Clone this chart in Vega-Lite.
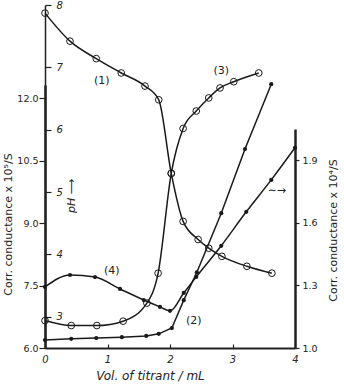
{
  "$schema": "https://vega.github.io/schema/vega-lite/v6.json",
  "width": 250,
  "height": 343,
  "autosize": {"type": "none"},
  "padding": {"left": 45, "top": 5, "right": 49, "bottom": 38},
  "background": "white",
  "config": {
    "view": {"stroke": null},
    "axis": {
      "grid": false,
      "labelFont": "DejaVu Sans",
      "titleFont": "DejaVu Sans",
      "labelColor": "#222",
      "titleColor": "#222",
      "tickColor": "#222",
      "domainColor": "#222",
      "titleFontWeight": "normal"
    }
  },
  "datasets": {
    "ph": [
      {"curve": "1", "x": 0, "pH": 7.87},
      {"curve": "1", "x": 0.4, "pH": 7.42},
      {"curve": "1", "x": 0.82, "pH": 7.14},
      {"curve": "1", "x": 1.22, "pH": 6.91},
      {"curve": "1", "x": 1.6, "pH": 6.7},
      {"curve": "1", "x": 1.82, "pH": 6.48},
      {"curve": "1", "x": 2.02, "pH": 5.3},
      {"curve": "1", "x": 2.21, "pH": 4.53},
      {"curve": "1", "x": 2.45, "pH": 4.24},
      {"curve": "1", "x": 2.62, "pH": 4.1},
      {"curve": "1", "x": 2.83, "pH": 3.97},
      {"curve": "1", "x": 3.23, "pH": 3.81},
      {"curve": "1", "x": 3.63, "pH": 3.7},
      {"curve": "3", "x": 0, "pH": 2.94},
      {"curve": "3", "x": 0.42, "pH": 2.86},
      {"curve": "3", "x": 0.83, "pH": 2.86},
      {"curve": "3", "x": 1.25, "pH": 2.93},
      {"curve": "3", "x": 1.63, "pH": 3.22},
      {"curve": "3", "x": 1.81, "pH": 3.7},
      {"curve": "3", "x": 2.02, "pH": 5.3},
      {"curve": "3", "x": 2.21, "pH": 6.02},
      {"curve": "3", "x": 2.42, "pH": 6.3},
      {"curve": "3", "x": 2.62, "pH": 6.51},
      {"curve": "3", "x": 2.8, "pH": 6.67},
      {"curve": "3", "x": 3.02, "pH": 6.77},
      {"curve": "3", "x": 3.42, "pH": 6.91}
    ],
    "left": [
      {"curve": "2", "x": 0, "G": 6.19},
      {"curve": "2", "x": 0.42, "G": 6.22},
      {"curve": "2", "x": 0.82, "G": 6.24},
      {"curve": "2", "x": 1.23, "G": 6.26},
      {"curve": "2", "x": 1.62, "G": 6.29},
      {"curve": "2", "x": 1.82, "G": 6.34},
      {"curve": "2", "x": 2.03, "G": 6.48},
      {"curve": "2", "x": 2.22, "G": 7.15},
      {"curve": "2", "x": 2.43, "G": 7.82},
      {"curve": "2", "x": 2.82, "G": 9.24},
      {"curve": "2", "x": 3.2, "G": 10.78},
      {"curve": "2", "x": 3.62, "G": 12.34}
    ],
    "right": [
      {"curve": "4", "x": 0, "G": 1.293},
      {"curve": "4", "x": 0.4, "G": 1.35},
      {"curve": "4", "x": 0.8, "G": 1.34},
      {"curve": "4", "x": 1.2, "G": 1.283},
      {"curve": "4", "x": 1.58, "G": 1.23},
      {"curve": "4", "x": 1.84, "G": 1.197},
      {"curve": "4", "x": 2.0, "G": 1.178},
      {"curve": "4", "x": 2.22, "G": 1.264},
      {"curve": "4", "x": 2.42, "G": 1.341},
      {"curve": "4", "x": 2.82, "G": 1.49},
      {"curve": "4", "x": 3.22, "G": 1.653},
      {"curve": "4", "x": 3.62, "G": 1.806},
      {"curve": "4", "x": 4.0, "G": 1.96}
    ],
    "labels": [
      {"label": "(1)", "x": 0.91, "pH": 6.78},
      {"label": "(3)", "x": 2.82, "pH": 6.94},
      {"label": "(4)", "x": 1.07, "pH": 3.73},
      {"label": "(2)", "x": 2.38, "pH": 2.93},
      {"label": "∼→", "x": 3.71, "pH": 5.02}
    ]
  },
  "layer": [
    {
      "data": {"name": "ph"},
      "mark": {"type": "line", "interpolate": "monotone", "stroke": "#1a1a1a", "strokeWidth": 1.5},
      "encoding": {
        "x": {
          "field": "x",
          "type": "quantitative",
          "scale": {"domain": [0, 4], "nice": false},
          "axis": {
            "title": "Vol.  of  titrant / mL",
            "values": [0, 1, 2, 3, 4],
            "format": "d",
            "tickSize": -4,
            "tickWidth": 1.2,
            "labelPadding": 10,
            "labelFlush": false,
            "labelFontSize": 10,
            "labelFontStyle": "italic",
            "domainWidth": 2,
            "titleFontSize": 12,
            "titleFontStyle": "italic",
            "titleX": 105,
            "titleY": 27,
            "titleBaseline": "middle"
          }
        },
        "y": {
          "field": "pH",
          "type": "quantitative",
          "scale": {"domain": [2.5, 8], "nice": false, "zero": false},
          "axis": {
            "orient": "right",
            "offset": -250,
            "values": [3, 4, 5, 6, 7, 8],
            "tickSize": 6,
            "tickWidth": 1.2,
            "labelPadding": 5,
            "labelFontSize": 10,
            "labelFontStyle": "italic",
            "domainWidth": 1.5,
            "title": null
          }
        },
        "detail": {"field": "curve"}
      }
    },
    {
      "data": {"name": "ph"},
      "mark": {"type": "point", "shape": "circle", "filled": false, "size": 45, "stroke": "#1a1a1a", "strokeWidth": 1, "opacity": 1},
      "encoding": {
        "x": {"field": "x", "type": "quantitative"},
        "y": {"field": "pH", "type": "quantitative", "scale": {"domain": [2.5, 8], "nice": false, "zero": false}, "axis": null}
      }
    },
    {
      "data": {"name": "left"},
      "mark": {"type": "line", "stroke": "#1a1a1a", "strokeWidth": 1.5},
      "encoding": {
        "x": {"field": "x", "type": "quantitative"},
        "y": {
          "field": "G",
          "type": "quantitative",
          "scale": {"domain": [6, 12.32], "range": [343, 80], "nice": false, "zero": false},
          "axis": {
            "orient": "left",
            "values": [6, 7.5, 9, 10.5, 12],
            "format": ".1f",
            "tickSize": 6,
            "tickWidth": 1.2,
            "labelPadding": 1,
            "labelFontSize": 9.5,
            "domainWidth": 2.5,
            "title": "Corr.  conductance  x  10⁵/S",
            "titleFontSize": 11,
            "titleAngle": 270,
            "titleX": -37,
            "titleY": 219,
            "titleBaseline": "middle"
          }
        }
      }
    },
    {
      "data": {"name": "left"},
      "mark": {"type": "point", "shape": "circle", "filled": true, "size": 18, "fill": "#1a1a1a", "opacity": 1},
      "encoding": {
        "x": {"field": "x", "type": "quantitative"},
        "y": {"field": "G", "type": "quantitative", "scale": {"domain": [6, 12.32], "range": [343, 80], "nice": false, "zero": false}, "axis": null}
      }
    },
    {
      "data": {"name": "right"},
      "mark": {"type": "line", "interpolate": "monotone", "stroke": "#1a1a1a", "strokeWidth": 1.5},
      "encoding": {
        "x": {"field": "x", "type": "quantitative"},
        "y": {
          "field": "G",
          "type": "quantitative",
          "scale": {"domain": [1.0, 2.05], "range": [343, 124], "nice": false, "zero": false},
          "axis": {
            "orient": "right",
            "values": [1.0, 1.3, 1.6, 1.9],
            "format": ".1f",
            "tickSize": 4,
            "tickWidth": 1.2,
            "labelPadding": 3,
            "labelFontSize": 9.5,
            "domainWidth": 2.5,
            "title": "Corr.  conductance  x  10⁴/S",
            "titleFontSize": 11,
            "titleAngle": 270,
            "titleX": 38,
            "titleY": 225,
            "titleBaseline": "middle"
          }
        }
      }
    },
    {
      "data": {"name": "right"},
      "mark": {"type": "point", "shape": "circle", "filled": true, "size": 18, "fill": "#1a1a1a", "opacity": 1},
      "encoding": {
        "x": {"field": "x", "type": "quantitative"},
        "y": {"field": "G", "type": "quantitative", "scale": {"domain": [1.0, 2.05], "range": [343, 124], "nice": false, "zero": false}, "axis": null}
      }
    },
    {
      "data": {"name": "labels"},
      "mark": {"type": "text", "fontSize": 11, "font": "DejaVu Sans", "color": "#222"},
      "encoding": {
        "x": {"field": "x", "type": "quantitative"},
        "y": {"field": "pH", "type": "quantitative", "scale": {"domain": [2.5, 8], "nice": false, "zero": false}, "axis": null},
        "text": {"field": "label"}
      }
    },
    {
      "data": {"values": [{"label": "pH ⟶", "x": 0.43, "pH": 4.94}]},
      "mark": {"type": "text", "fontSize": 11, "fontStyle": "italic", "angle": 270, "font": "DejaVu Sans", "color": "#222"},
      "encoding": {
        "x": {"field": "x", "type": "quantitative"},
        "y": {"field": "pH", "type": "quantitative", "scale": {"domain": [2.5, 8], "nice": false, "zero": false}, "axis": null},
        "text": {"field": "label"}
      }
    }
  ],
  "resolve": {"scale": {"y": "independent"}}
}
